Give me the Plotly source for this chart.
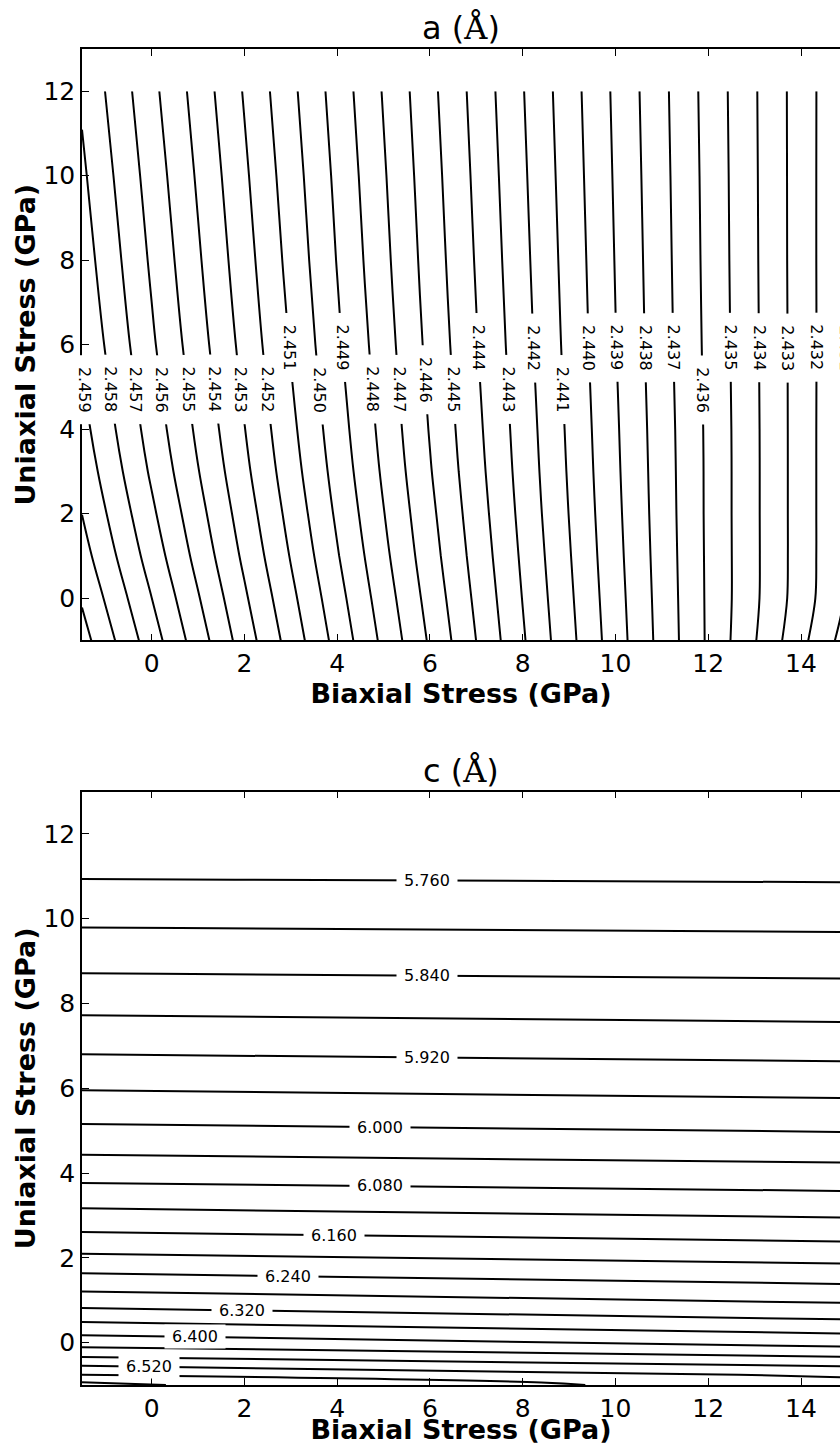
import numpy as np
import plotly.graph_objects as go
from plotly.subplots import make_subplots

# ---------------- panel a : lattice parameter a (Angstrom) ----------------
biaxial_a = [-1.5, 0, 2, 4, 6, 8, 10, 12, 14, 15]
uniaxial_a = [-1, 0, 1, 2, 3, 4, 6, 8, 10, 12]
a_lattice = [
    [2.46139, 2.45847, 2.45451, 2.45066, 2.44687, 2.44311, 2.43947, 2.43586, 2.43227, 2.43053],
    [2.46089, 2.45801, 2.45415, 2.45037, 2.44664, 2.44297, 2.43939, 2.43585, 2.43250, 2.43088],
    [2.46040, 2.45756, 2.45380, 2.45008, 2.44642, 2.44284, 2.43931, 2.43584, 2.43253, 2.43092],
    [2.45999, 2.45719, 2.45351, 2.44984, 2.44624, 2.44272, 2.43924, 2.43583, 2.43253, 2.43092],
    [2.45963, 2.45685, 2.45324, 2.44963, 2.44607, 2.44262, 2.43918, 2.43583, 2.43253, 2.43092],
    [2.45933, 2.45658, 2.45303, 2.44946, 2.44594, 2.44254, 2.43913, 2.43582, 2.43253, 2.43092],
    [2.45886, 2.45616, 2.45268, 2.44918, 2.44573, 2.44239, 2.43903, 2.43577, 2.43253, 2.43094],
    [2.45850, 2.45585, 2.45241, 2.44896, 2.44557, 2.44227, 2.43896, 2.43573, 2.43252, 2.43094],
    [2.45818, 2.45557, 2.45217, 2.44878, 2.44543, 2.44216, 2.43889, 2.43570, 2.43252, 2.43094],
    [2.45785, 2.45528, 2.45192, 2.44858, 2.44528, 2.44205, 2.43882, 2.43566, 2.43252, 2.43095],
]
a_levels = dict(start=2.431, end=2.461, size=0.001)
# levels that carry an inline label in panel a
a_labels = [2.431, 2.432, 2.433, 2.434, 2.435, 2.436, 2.437, 2.438, 2.439, 2.440,
            2.441, 2.442, 2.443, 2.444, 2.445, 2.446, 2.447, 2.448, 2.449, 2.450,
            2.451, 2.452, 2.453, 2.454, 2.455, 2.456, 2.457, 2.458, 2.459]

# ---------------- panel c : lattice parameter c (Angstrom) ----------------
biaxial_c = [-1.5, 15]
uniaxial_c = [-1.0, -0.94, -0.76, -0.55, -0.34, -0.11, 0.17, 0.48, 0.81, 1.20, 1.63, 2.09,
              2.60, 3.16, 3.76, 4.42, 5.15, 5.94, 6.79, 7.71, 8.70, 9.78, 10.92, 12.0]
c_lattice = [
    [6.6080, 6.5350], [6.6005, 6.5330], [6.5605, 6.5133], [6.5205, 6.4782],
    [6.4805, 6.4405], [6.4405, 6.4017], [6.4005, 6.3652], [6.3605, 6.3273],
    [6.3205, 6.2916], [6.2805, 6.2557], [6.2405, 6.2187], [6.2005, 6.1819],
    [6.1605, 6.1440], [6.1205, 6.1056], [6.0805, 6.0687], [6.0405, 6.0299],
    [6.0005, 5.9901], [5.9605, 5.9517], [5.9205, 5.9130], [5.8805, 5.8738],
    [5.8405, 5.8356], [5.8005, 5.7966], [5.7605, 5.7580], [5.7235, 5.7214],
]
c_levels = dict(start=5.76, end=6.60, size=0.04)
# levels that carry an inline label in panel c
c_labels = [5.76, 5.84, 5.92, 6.00, 6.08, 6.16, 6.24, 6.32, 6.40, 6.52]

x_ticks = [0, 2, 4, 6, 8, 10, 12, 14]
y_ticks = [0, 2, 4, 6, 8, 10, 12]

# ---------------- styling / label placement (not data) ----------------
FONT = "DejaVu Sans"
ANG = "<span style='font-family:DejaVu Serif'>Å</span>"
NB = "\u00a0"
X_RANGE = [-1.5, 14.84]
Y_RANGE = [-1, 13]
a_label_row = {2.431: 5.93, 2.432: 5.93, 2.433: 5.93, 2.434: 5.93, 2.435: 5.93,
               2.437: 5.93, 2.438: 5.93, 2.439: 5.93, 2.440: 5.93, 2.442: 5.93,
               2.444: 5.93, 2.446: 5.17, 2.449: 5.93, 2.451: 5.93}
a_label_row_default = 4.94
c_label_col = {5.76: 5.94, 5.84: 5.94, 5.92: 5.94, 6.00: 4.92, 6.08: 4.92,
               6.16: 3.93, 6.24: 2.94, 6.32: 1.95, 6.40: 0.93, 6.52: -0.06}

fig = make_subplots(rows=2, cols=1, vertical_spacing=0.113,
                    subplot_titles=("a (" + ANG + ")", "c (" + ANG + ")"))


def contour(x, y, z, lv, row):
    fig.add_trace(go.Contour(
        x=x, y=y, z=z, autocontour=False,
        contours=dict(start=lv["start"], end=lv["end"], size=lv["size"], coloring="none",
                      showlabels=False),
        line=dict(color="black", width=2), showscale=False, hoverinfo="skip"),
        row=row, col=1)


contour(biaxial_a, uniaxial_a, a_lattice, a_levels, 1)
contour(biaxial_c, uniaxial_c, c_lattice, c_levels, 2)

label_font = dict(family=FONT, size=16, color="black")

# panel a labels: position found on the drawn data grid along a chosen row
A = np.array(a_lattice)
xa = np.array(biaxial_a, dtype=float)
ya = np.array(uniaxial_a, dtype=float)
for lv in a_labels:
    yl = a_label_row.get(lv, a_label_row_default)
    zrow = np.array([np.interp(yl, ya, A[:, j]) for j in range(len(xa))])
    xl = float(np.interp(lv, zrow[::-1], xa[::-1]))
    kw = dict(x=xl, xref="x")
    if xl > X_RANGE[1]:
        # label that sits past the visible right edge: place in domain units
        kw = dict(x=(xl - X_RANGE[0]) / (X_RANGE[1] - X_RANGE[0]), xref="x domain")
    fig.add_annotation(y=yl, yref="y", text=NB * 2 + f"{lv:.3f}" + NB * 2,
                       textangle=90, showarrow=False, bgcolor="white", borderpad=1,
                       xanchor="center", yanchor="middle", font=label_font, **kw)

# panel c labels: position found on the drawn data grid along a chosen column
C = np.array(c_lattice)
xc = np.array(biaxial_c, dtype=float)
yc = np.array(uniaxial_c, dtype=float)
for lv in c_labels:
    xl = c_label_col[lv]
    zcol = np.array([np.interp(xl, xc, C[i, :]) for i in range(len(yc))])
    yl = float(np.interp(lv, zcol[::-1], yc[::-1]))
    fig.add_annotation(x=xl, y=yl, xref="x2", yref="y2", text=NB + f"{lv:.3f}" + NB,
                       showarrow=False, bgcolor="white", borderpad=2,
                       xanchor="center", yanchor="middle", font=label_font)

axis_common = dict(showline=True, linewidth=1.5, linecolor="black", ticks="inside",
                   ticklen=7, tickwidth=1, tickcolor="black", showgrid=False, zeroline=False,
                   tickfont=dict(family=FONT, size=25, color="black"))
for r in (1, 2):
    fig.update_xaxes(range=X_RANGE, tickvals=x_ticks, mirror="ticks",
                     title=dict(text="<b>Biaxial Stress (GPa)</b>", standoff=0,
                                font=dict(family=FONT, size=27, color="black")),
                     row=r, col=1, **axis_common)
    fig.update_yaxes(range=Y_RANGE, tickvals=y_ticks, mirror=False,
                     title=dict(text="<b>Uniaxial Stress (GPa)</b>", standoff=0,
                                font=dict(family=FONT, size=27, color="black")),
                     row=r, col=1, **axis_common)

fig.update_layout(
    width=840, height=1445, margin=dict(l=82, r=0, t=49, b=60),
    paper_bgcolor="white", plot_bgcolor="white", showlegend=False,
    font=dict(family=FONT, color="black"),
)
fig.layout.yaxis.domain = [0.5573, 1.0]
fig.layout.yaxis2.domain = [0.0, 0.4442]
for ann in fig.layout.annotations[:2]:
    ann.font = dict(family=FONT, size=32, color="black")
fig.layout.annotations[0].y = 1.0
fig.layout.annotations[1].y = 0.4442

fig.write_html("out.html")
